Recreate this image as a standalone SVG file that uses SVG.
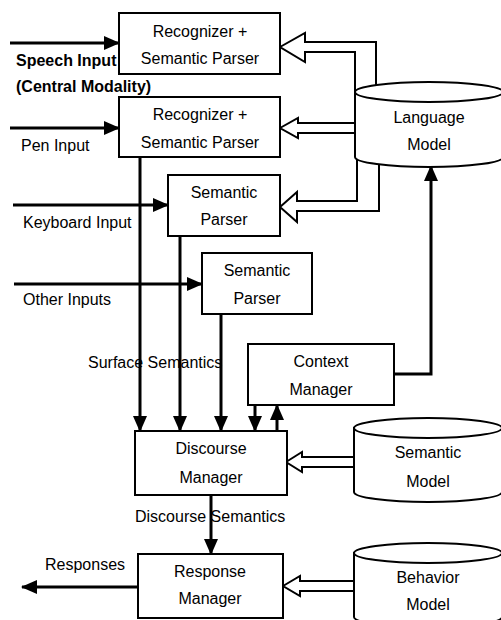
<svg xmlns="http://www.w3.org/2000/svg" width="501" height="620" viewBox="0 0 501 620">
<style>
text{font-family:"Liberation Sans",Arial,sans-serif;font-size:16px;fill:#000}
.c{text-anchor:middle}
.b{font-weight:bold}
.box{fill:#fff;stroke:#000;stroke-width:2}
.cyl{fill:#fff;stroke:#000;stroke-width:2}
.ln{fill:none;stroke:#000;stroke-width:3}
.blk{fill:#fff;stroke:#000;stroke-width:2;stroke-linejoin:miter}
</style>
<defs>
<marker id="ah" markerUnits="userSpaceOnUse" markerWidth="16" markerHeight="14" refX="15" refY="7" orient="auto">
<path d="M0,0 L16,7 L0,14 Z" fill="#000"/>
</marker>
</defs>
<g id="connectors">
<line class="ln" x1="10" y1="43" x2="119" y2="43" marker-end="url(#ah)"/>
<line class="ln" x1="10" y1="128" x2="119" y2="128" marker-end="url(#ah)"/>
<line class="ln" x1="13" y1="205" x2="168" y2="205" marker-end="url(#ah)"/>
<line class="ln" x1="14" y1="284" x2="202" y2="284" marker-end="url(#ah)"/>
<line class="ln" x1="140" y1="157" x2="140" y2="431" marker-end="url(#ah)"/>
<line class="ln" x1="180" y1="236" x2="180" y2="431" marker-end="url(#ah)"/>
<line class="ln" x1="221" y1="314" x2="221" y2="431" marker-end="url(#ah)"/>
<line class="ln" x1="255" y1="405" x2="255" y2="431" marker-end="url(#ah)"/>
<line class="ln" x1="277" y1="431" x2="277" y2="405" marker-end="url(#ah)"/>
<polyline class="ln" points="394,374 431,374 431,166" marker-end="url(#ah)"/>
<line class="ln" x1="211" y1="495" x2="211" y2="554" marker-end="url(#ah)"/>
<line class="ln" x1="138" y1="587" x2="22" y2="587" marker-end="url(#ah)"/>
<path class="blk" d="M280,47 L305,33 L305,42 L376,42 L376,95 L355,95 L355,52 L305,52 L305,62 Z"/>
<path class="blk" d="M280,128 L298,118 L298,123 L360,123 L360,133 L298,133 L298,138 Z"/>
<path class="blk" d="M280,207 L297,192 L297,201 L357,201 L357,150 L379,150 L379,211 L297,211 L297,222 Z"/>
<path class="blk" d="M286,462 L302,452 L302,457 L358,457 L358,467 L302,467 L302,472 Z"/>
<path class="blk" d="M283,586 L300,576 L300,581 L358,581 L358,591 L300,591 L300,596 Z"/>
</g>
<g id="speech-label">
<text class="b" x="16" y="66">Speech Input</text>
<text class="b" x="16" y="92">(Central Modality)</text>
</g>
<g id="input-labels">
<text x="21" y="151">Pen Input</text>
<text x="23" y="228">Keyboard Input</text>
<text x="23" y="305">Other Inputs</text>
<text x="88" y="368">Surface Semantics</text>
<text x="135" y="522">Discourse Semantics</text>
<text x="45" y="570">Responses</text>
</g>
<g id="recognizer1">
<rect class="box" x="119" y="13" width="161" height="61"/>
<text class="c" x="200" y="37">Recognizer +</text>
<text class="c" x="200" y="64">Semantic Parser</text>
</g>
<g id="recognizer2">
<rect class="box" x="119" y="97" width="161" height="60"/>
<text class="c" x="200" y="120">Recognizer +</text>
<text class="c" x="200" y="148">Semantic Parser</text>
</g>
<g id="parser1">
<rect class="box" x="168" y="175" width="112" height="61"/>
<text class="c" x="224" y="198">Semantic</text>
<text class="c" x="224" y="225">Parser</text>
</g>
<g id="parser2">
<rect class="box" x="202" y="253" width="110" height="61"/>
<text class="c" x="257" y="276">Semantic</text>
<text class="c" x="257" y="304">Parser</text>
</g>
<g id="context-manager">
<rect class="box" x="248" y="344" width="146" height="61"/>
<text class="c" x="321" y="367">Context</text>
<text class="c" x="321" y="395">Manager</text>
</g>
<g id="discourse-manager">
<rect class="box" x="135" y="431" width="152" height="64"/>
<text class="c" x="211" y="454">Discourse</text>
<text class="c" x="211" y="483">Manager</text>
</g>
<g id="response-manager">
<rect class="box" x="138" y="554" width="145" height="64"/>
<text class="c" x="210" y="577">Response</text>
<text class="c" x="210" y="604">Manager</text>
</g>
<g id="language-model">
<path class="cyl" d="M355,92 L355,157 A74,10 0 0 0 503,157 L503,92 Z"/>
<ellipse class="cyl" cx="429" cy="92" rx="74" ry="10"/>
<text class="c" x="429" y="123">Language</text>
<text class="c" x="429" y="150">Model</text>
</g>
<g id="semantic-model">
<path class="cyl" d="M354,428 L354,492 A74,10 0 0 0 502,492 L502,428 Z"/>
<ellipse class="cyl" cx="428" cy="428" rx="74" ry="10"/>
<text class="c" x="428" y="458">Semantic</text>
<text class="c" x="428" y="487">Model</text>
</g>
<g id="behavior-model">
<path class="cyl" d="M354,553 L354,617 A74,10 0 0 0 502,617 L502,553 Z"/>
<ellipse class="cyl" cx="428" cy="553" rx="74" ry="10"/>
<text class="c" x="428" y="583">Behavior</text>
<text class="c" x="428" y="610">Model</text>
</g>
</svg>
